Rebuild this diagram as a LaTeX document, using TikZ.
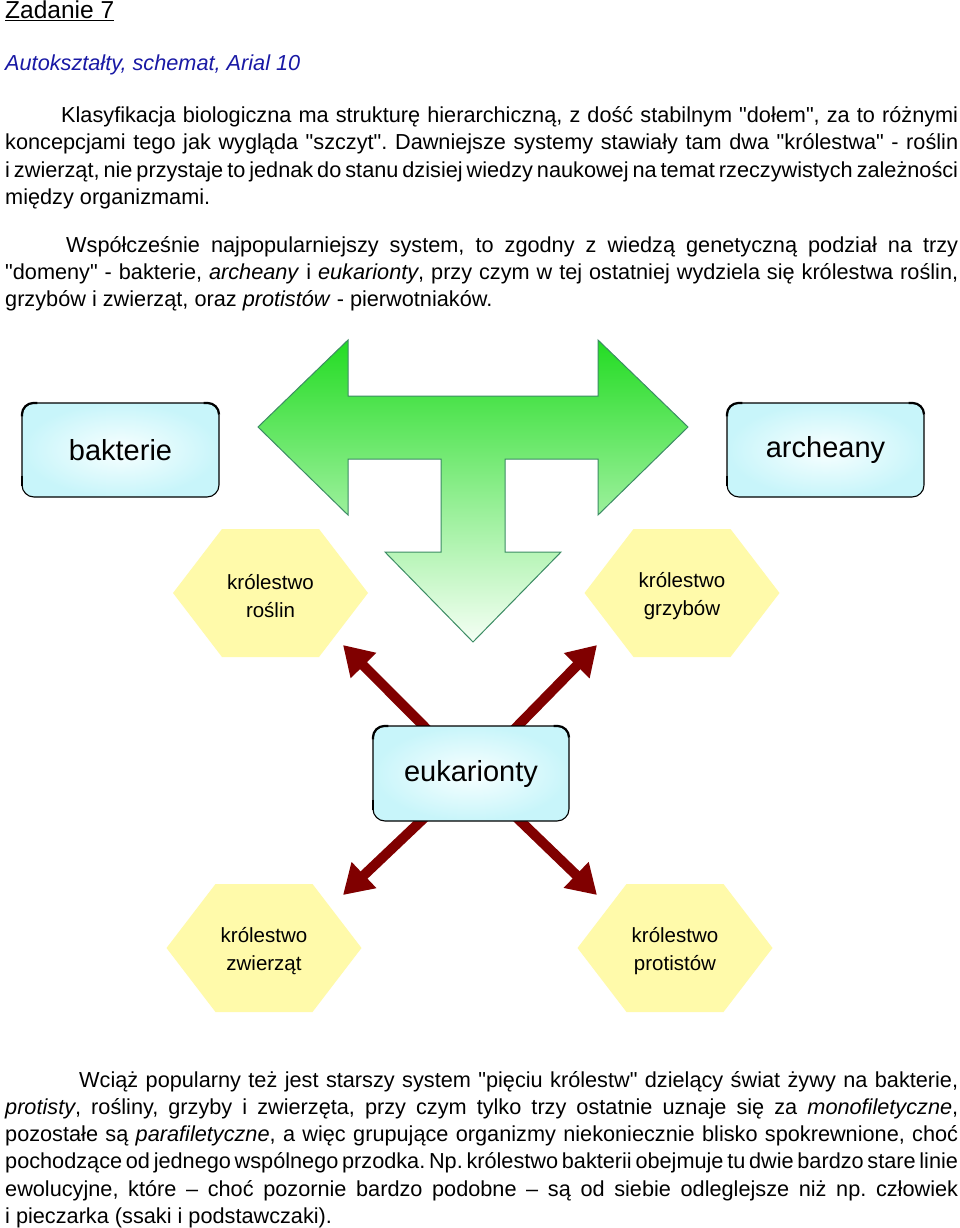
\documentclass[tikz,border=0pt]{standalone}
\usepackage{fontspec}
\setmainfont{Liberation Sans}[Ligatures=TeXOff]
\usetikzlibrary{arrows.meta,backgrounds,calc}
\definecolor{subblue}{RGB}{25,25,165}
\definecolor{greentop}{RGB}{35,220,35}
\definecolor{greenbot}{RGB}{245,255,245}
\definecolor{greenedge}{RGB}{60,140,100}
\definecolor{boxin}{RGB}{248,255,255}
\definecolor{boxout}{RGB}{200,245,250}
\definecolor{hexyellow}{RGB}{255,250,170}
\definecolor{darkred}{RGB}{128,0,0}
\newcommand{\bodyfont}{\fontsize{21.7}{27}\selectfont\frenchspacing\spaceskip=0.278em plus 0.6em minus 0.12em\relax}
\tikzset{
  txt/.style={anchor=base west, inner sep=0pt, font=\bodyfont},
  dbox/.style={draw=black, line width=1.1pt, rounded corners=12pt, inner color=boxin, outer color=boxout,
    font=\fontsize{29}{34}\selectfont, inner sep=0pt},
  cornermark/.style={draw=black, line width=2.2pt},
  hexfill/.style={fill=hexyellow, draw=none},
  hextext/.style={align=center, font=\fontsize{20.5}{28}\selectfont, inner sep=0pt},
  redarrow/.style={draw=darkred, line width=10pt, -{Triangle[length=29pt,width=34pt]}, fill=darkred},
}
\newcommand{\hexat}[2]{\path[hexfill] (#1-97.5,#2) -- (#1-48.5,#2-64) -- (#1+48.5,#2-64) -- (#1+97.5,#2) -- (#1+48.5,#2+64) -- (#1-48.5,#2+64) -- cycle;}
\newcommand{\corners}[1]{%
  \draw[cornermark] ($(#1.north west)+(0.5,14)$) -- ++(0,-2) arc[start angle=180,end angle=270,radius=11.5] -- ++(4,0);
  \draw[cornermark] ($(#1.north east)+(-16,0.5)$) -- ++(4,0) arc[start angle=270,end angle=360,radius=11.5];
  \draw[cornermark] ($(#1.south west)+(0.5,-22)$) -- ++(0,10);}
\begin{document}
\begin{tikzpicture}[x=1pt,y=-1pt]
\useasboundingbox (0,0) rectangle (960,1228);

% title
\node[anchor=base west, inner sep=0pt, font=\fontsize{24.5}{29}\selectfont] (title) at (5,19) {\underline{Zadanie 7}};
\node[anchor=base west, inner sep=0pt, font=\fontsize{21.7}{27}\selectfont\itshape, text=subblue] (sub) at (5,71) {Autokształty, schemat, Arial 10};

% paragraph 1
\node[txt] (p1a) at (61,122) {\makebox[897pt][s]{Klasyfikacja biologiczna ma strukturę hierarchiczną, z dość stabilnym "dołem", za to różnymi}};
\node[txt] (p1b) at (5,149.5) {\makebox[953pt][s]{koncepcjami tego jak wygląda "szczyt". Dawniejsze systemy stawiały tam dwa "królestwa" - roślin}};
\node[txt] (p1c) at (5,177) {\makebox[953pt][s]{i zwierząt, nie przystaje to jednak do stanu dzisiej wiedzy naukowej na temat rzeczywistych zależności}};
\node[txt] (p1d) at (5,204) {między organizmami.};

% paragraph 2
\node[txt] (p2a) at (66,252) {\makebox[892pt][s]{Współcześnie najpopularniejszy system, to zgodny z wiedzą genetyczną podział na trzy}};
\node[txt] (p2b) at (5,279) {\makebox[953pt][s]{"domeny" - bakterie, \textit{archeany} i \textit{eukarionty}, przy czym w tej ostatniej wydziela się królestwa roślin,}};
\node[txt] (p2c) at (5,306) {grzybów i zwierząt, oraz \textit{protistów} - pierwotniaków.};

% big green arrow
\shade[top color=greentop, bottom color=greenbot, draw=greenedge, line width=1pt]
  (258,427) -- (348,340) -- (348,396) -- (598,396) -- (598,340) -- (688,427) -- (598,515) -- (598,459)
  -- (505,459) -- (505,552) -- (561,552) -- (473,642) -- (385,552) -- (441,552) -- (441,459)
  -- (348,459) -- (348,515) -- cycle;

% domain boxes
\node[dbox, minimum width=197pt, minimum height=94pt] (bakterie) at (120.5,450) {bakterie};
\node[dbox, minimum width=197pt, minimum height=94pt] (archeany) at (825.5,450) {archeany};
\node[dbox, minimum width=196pt, minimum height=95pt] (euk) at (471,773.5) {eukarionty};
\corners{bakterie}
\corners{archeany}
\corners{euk}

% hexagons
\hexat{270.5}{593}
\hexat{682}{593}
\hexat{264}{948}
\hexat{675}{948}
\node[hextext] (rosliny) at (270.5,596) {królestwo\\roślin};
\node[hextext] (grzyby) at (682,596) {królestwo\\grzybów};
\node[hextext] (zwierzeta) at (264,951) {królestwo\\zwierząt};
\node[hextext] (protisty) at (675,951) {królestwo\\protistów};

% red arrows behind eukarionty
\coordinate (t1) at (343,645);
\coordinate (t2) at (597,645);
\coordinate (t3) at (343,895);
\coordinate (t4) at (597,895);
\begin{scope}[on background layer]
\fill[white] (0,0) rectangle (960,1228);
\draw[redarrow] (euk.center) -- (t1);
\draw[redarrow] (euk.center) -- (t2);
\draw[redarrow] (euk.center) -- (t3);
\draw[redarrow] (euk.center) -- (t4);
\end{scope}

% paragraph 3
\node[txt] (p3a) at (79,1087) {\makebox[879pt][s]{Wciąż popularny też jest starszy system "pięciu królestw" dzielący świat żywy na bakterie,}};
\node[txt] (p3b) at (5,1114) {\makebox[953pt][s]{\textit{protisty}, rośliny, grzyby i zwierzęta, przy czym tylko trzy ostatnie uznaje się za \textit{monofiletyczne},}};
\node[txt] (p3c) at (5,1141) {\makebox[953pt][s]{pozostałe są \textit{parafiletyczne}, a więc grupujące organizmy niekoniecznie blisko spokrewnione, choć}};
\node[txt] (p3d) at (5,1168.5) {\makebox[953pt][s]{pochodzące od jednego wspólnego przodka. Np. królestwo bakterii obejmuje tu dwie bardzo stare linie}};
\node[txt] (p3e) at (5,1196) {\makebox[953pt][s]{ewolucyjne, które – choć pozornie bardzo podobne – są od siebie odleglejsze niż np. człowiek}};
\node[txt] (p3f) at (5,1223) {i pieczarka (ssaki i podstawczaki).};
\end{tikzpicture}
\end{document}
